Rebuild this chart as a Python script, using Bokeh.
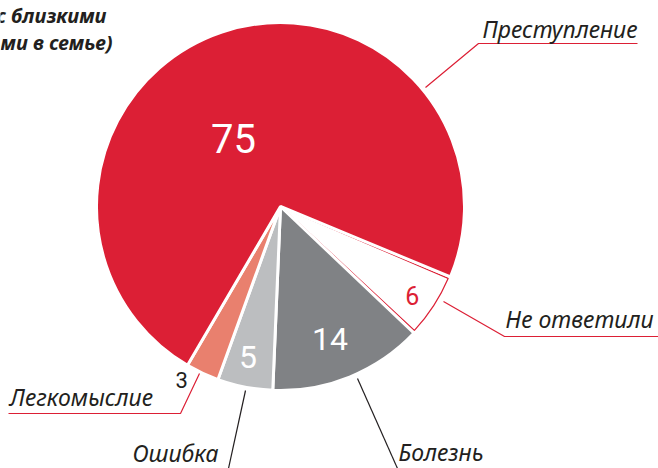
import math
from bokeh.plotting import figure
from bokeh.models import Range1d
from bokeh.core.properties import value
from bokeh.embed import file_html
from bokeh.resources import INLINE

# ---- data ----
categories = ["Не ответили", "Болезнь", "Ошибка", "Легкомыслие", "Преступление"]
values = [6, 14, 5, 3, 75]
colors = ["#FFFFFF", "#808285", "#BCBEC0", "#E9806E", "#DC1F35"]
value_text_colors = ["#DC1F35", "#FFFFFF", "#FFFFFF", "#231F20", "#FFFFFF"]
title_lines = ["(отношения с близкими", "людьми в семье)"]

# ---- layout ----
W, H = 658, 468


def Y(sy):
    return H - sy


CX, CY = 280, Y(206)
R = 184
START_DEG = -22.5
RED = "#DC1F35"
DARK = "#231F20"

p = figure(width=W, height=H, x_range=Range1d(0, W), y_range=Range1d(0, H),
           output_backend="svg", toolbar_location=None, min_border=0,
           x_axis_location=None, y_axis_location=None)
p.grid.visible = False
p.outline_line_color = None

total = sum(values)
cum = 0
mids = []
for v, c in zip(values, colors):
    hi = START_DEG - cum * 360.0 / total
    lo = hi - v * 360.0 / total
    mids.append((hi + lo) / 2)
    p.wedge(x=[CX], y=[CY], radius=R, start_angle=[math.radians(lo)], end_angle=[math.radians(hi)],
            direction="anticlock", fill_color=c, line_color="white", line_width=3)
    if c == "#FFFFFF":
        m = math.radians((hi + lo) / 2)
        p.wedge(x=[CX + 1.5 * math.cos(m)], y=[CY + 1.5 * math.sin(m)], radius=R - 3,
                start_angle=[math.radians(lo + 0.6)], end_angle=[math.radians(hi - 0.6)],
                direction="anticlock", fill_color=None, line_color=RED, line_width=1.2)
    cum += v

# value labels inside / near slices: (radius, angle offset, font size)
val_layout = [(159, -1, 25), (141, -1.5, 32), (154, -1, 32), (200, -4.5, 22), (83, 16, 40)]
for v, mid, tc, (rr, da, fs) in zip(values, mids, value_text_colors, val_layout):
    a = math.radians(mid + da)
    p.text(x=[CX + rr * math.cos(a)], y=[CY + rr * math.sin(a)], text=[str(v)],
           text_color=tc, text_font=value("Roboto"), text_font_size=f"{fs}px",
           text_align="center", text_baseline="middle")

# outer category labels: (text x, baseline y, align, leader points, color)
lab_layout = {
    "Преступление": (637, 28, "right", [(425, 87), (478, 43), (637, 43)], RED),
    "Не ответили": (653, 318, "right", [(443, 301), (504, 336), (658, 336)], RED),
    "Легкомыслие": (9, 396, "left", [(199, 373), (180, 413), (8, 413)], RED),
    "Ошибка": (218, 452, "right", [(245, 390), (228, 468)], DARK),
    "Болезнь": (398, 451, "left", [(357, 378), (397, 468)], DARK),
}
for cat in categories:
    tx, ty, al, pts, lc = lab_layout[cat]
    p.line(x=[q[0] for q in pts], y=[Y(q[1]) for q in pts], line_color=lc, line_width=1.2)
    p.text(x=[tx], y=[Y(ty)], text=[cat], text_color=DARK, text_font=value("Noto Sans"),
           text_font_style="italic", text_font_size="23px", text_align=al, text_baseline="alphabetic")

# title (cut at the left edge)
for line, tx, ty in zip(title_lines, [106, 112], [15, 42]):
    p.text(x=[tx], y=[Y(ty)], text=[line], text_color=DARK, text_font=value("Noto Sans"),
           text_font_style="bold italic", text_font_size="20px", text_align="right",
           text_baseline="alphabetic")

open("out.html", "w").write(file_html(p, INLINE))
